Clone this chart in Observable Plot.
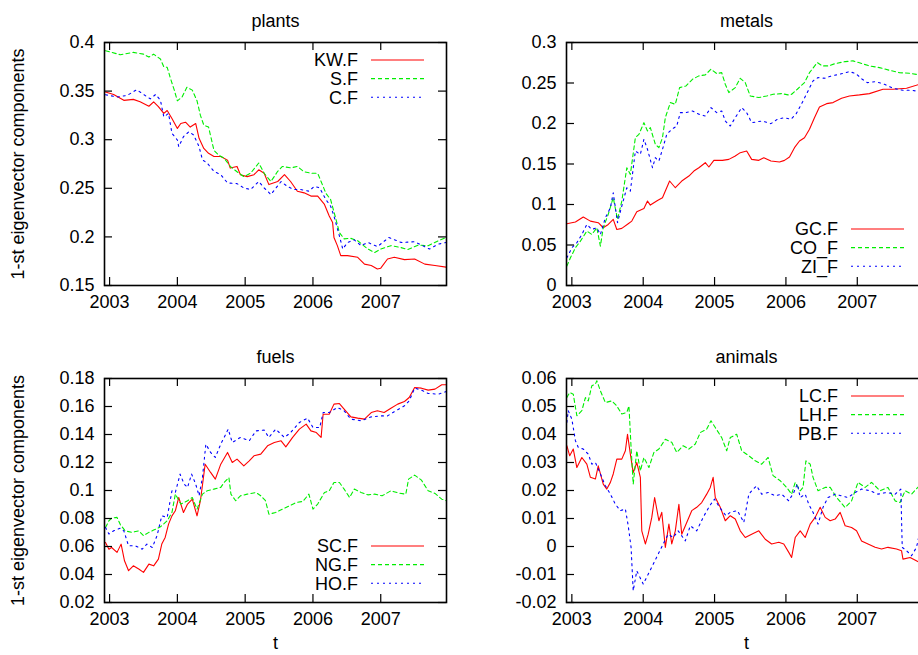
<!DOCTYPE html>
<html><head><meta charset="utf-8">
<script src="https://cdn.jsdelivr.net/npm/d3@7"></script>
<script src="https://cdn.jsdelivr.net/npm/@observablehq/plot@0.6"></script>
<style>
html,body{margin:0;padding:0;background:#fff;overflow:hidden;}
#wrap{position:relative;width:940px;height:655px;}
.panel{position:absolute;}
</style></head><body><div id="wrap"></div>
<script>
// ---------- data: [time (year), 1-st eigenvector component] ----------
const plantsKW = [[2002.94,0.349],[2003.06,0.3466],[2003.21,0.3405],[2003.35,0.3415],[2003.45,0.339],[2003.58,0.3344],[2003.65,0.339],[2003.72,0.334],[2003.8,0.327],[2003.85,0.33],[2003.92,0.3218],[2004.0,0.3116],[2004.05,0.3167],[2004.12,0.318],[2004.19,0.313],[2004.27,0.3167],[2004.32,0.3014],[2004.39,0.291],[2004.46,0.286],[2004.54,0.2827],[2004.64,0.2827],[2004.74,0.279],[2004.78,0.2708],[2004.88,0.2725],[2004.93,0.264],[2005.03,0.262],[2005.13,0.264],[2005.2,0.269],[2005.28,0.2655],[2005.35,0.2538],[2005.48,0.257],[2005.58,0.264],[2005.67,0.257],[2005.77,0.247],[2005.87,0.2453],[2005.97,0.242],[2006.07,0.242],[2006.17,0.2334],[2006.24,0.2215],[2006.29,0.2147],[2006.31,0.1994],[2006.36,0.191],[2006.41,0.1807],[2006.51,0.1807],[2006.66,0.179],[2006.76,0.172],[2006.86,0.1705],[2006.95,0.167],[2007.0,0.1678],[2007.1,0.1773],[2007.2,0.179],[2007.35,0.1766],[2007.5,0.1773],[2007.65,0.172],[2007.8,0.1705],[2007.97,0.1688]];
const plantsS = [[2002.94,0.3915],[2003.16,0.3874],[2003.35,0.3898],[2003.5,0.388],[2003.58,0.385],[2003.65,0.388],[2003.75,0.383],[2003.8,0.375],[2003.85,0.3745],[2003.9,0.3626],[2003.95,0.352],[2004.0,0.34],[2004.07,0.344],[2004.14,0.354],[2004.22,0.351],[2004.29,0.34],[2004.34,0.325],[2004.39,0.315],[2004.46,0.313],[2004.54,0.289],[2004.61,0.284],[2004.69,0.281],[2004.78,0.2725],[2004.88,0.267],[2004.98,0.262],[2005.08,0.2655],[2005.2,0.276],[2005.28,0.2655],[2005.38,0.257],[2005.48,0.2675],[2005.55,0.2725],[2005.67,0.271],[2005.77,0.2725],[2005.87,0.267],[2005.97,0.2655],[2006.07,0.2655],[2006.12,0.257],[2006.19,0.245],[2006.26,0.2385],[2006.34,0.218],[2006.39,0.2045],[2006.46,0.198],[2006.56,0.1985],[2006.66,0.196],[2006.81,0.1875],[2006.91,0.184],[2007.0,0.1875],[2007.15,0.191],[2007.3,0.189],[2007.4,0.187],[2007.55,0.1915],[2007.7,0.191],[2007.85,0.196],[2007.97,0.1995]];
const plantsC = [[2002.94,0.3463],[2003.11,0.3439],[2003.26,0.3456],[2003.4,0.3514],[2003.5,0.3466],[2003.6,0.342],[2003.68,0.3466],[2003.75,0.3405],[2003.8,0.3235],[2003.87,0.327],[2003.92,0.3065],[2004.0,0.2997],[2004.02,0.2929],[2004.09,0.3031],[2004.17,0.3082],[2004.24,0.3048],[2004.32,0.2929],[2004.37,0.2793],[2004.44,0.2759],[2004.54,0.2674],[2004.64,0.264],[2004.74,0.2555],[2004.88,0.2548],[2004.98,0.2504],[2005.08,0.2487],[2005.2,0.257],[2005.28,0.2504],[2005.38,0.2436],[2005.53,0.257],[2005.62,0.252],[2005.72,0.2487],[2005.82,0.2487],[2005.94,0.247],[2006.02,0.252],[2006.1,0.2504],[2006.19,0.2385],[2006.26,0.2317],[2006.31,0.2215],[2006.39,0.201],[2006.44,0.1875],[2006.51,0.1943],[2006.61,0.197],[2006.71,0.191],[2006.81,0.1943],[2006.95,0.19],[2007.12,0.1994],[2007.3,0.1943],[2007.5,0.195],[2007.72,0.1875],[2007.85,0.1926],[2007.97,0.1943]];

const metalsGC = [[2002.93,0.0762],[2003.05,0.0783],[2003.16,0.0845],[2003.26,0.0795],[2003.37,0.0775],[2003.44,0.0713],[2003.51,0.0754],[2003.58,0.0816],[2003.63,0.0692],[2003.7,0.0705],[2003.79,0.0762],[2003.84,0.0795],[2003.91,0.091],[2004.01,0.0952],[2004.06,0.1042],[2004.1,0.0993],[2004.2,0.105],[2004.27,0.1084],[2004.31,0.1166],[2004.37,0.129],[2004.45,0.1207],[2004.54,0.129],[2004.64,0.1351],[2004.71,0.1413],[2004.78,0.1454],[2004.87,0.1516],[2004.92,0.1463],[2004.99,0.1545],[2005.11,0.1545],[2005.2,0.1557],[2005.29,0.1598],[2005.36,0.164],[2005.45,0.166],[2005.52,0.1557],[2005.62,0.1545],[2005.69,0.1578],[2005.79,0.1537],[2005.91,0.1524],[2005.98,0.1545],[2006.05,0.1586],[2006.12,0.1702],[2006.19,0.1784],[2006.26,0.1825],[2006.33,0.1928],[2006.4,0.2072],[2006.47,0.2204],[2006.57,0.2245],[2006.66,0.2258],[2006.78,0.2311],[2006.89,0.234],[2007.03,0.2353],[2007.17,0.2369],[2007.36,0.2423],[2007.5,0.2423],[2007.69,0.2435],[2007.87,0.2484],[2007.97,0.249]];
const metalsCO = [[2002.93,0.0239],[2002.98,0.0342],[2003.05,0.0466],[2003.12,0.0548],[2003.21,0.0672],[2003.28,0.063],[2003.35,0.0713],[2003.4,0.0486],[2003.44,0.0713],[2003.51,0.0878],[2003.58,0.1084],[2003.64,0.0816],[2003.7,0.1042],[2003.77,0.1454],[2003.82,0.1372],[2003.89,0.1825],[2003.94,0.1866],[2004.01,0.201],[2004.06,0.1908],[2004.1,0.1949],[2004.17,0.1743],[2004.22,0.1702],[2004.27,0.1825],[2004.31,0.2072],[2004.38,0.2258],[2004.45,0.2237],[2004.51,0.2443],[2004.6,0.2464],[2004.69,0.2546],[2004.78,0.2588],[2004.87,0.26],[2004.95,0.267],[2005.03,0.2616],[2005.1,0.2628],[2005.15,0.2485],[2005.2,0.2382],[2005.29,0.2443],[2005.36,0.2558],[2005.43,0.2505],[2005.5,0.234],[2005.62,0.232],[2005.73,0.234],[2005.82,0.2361],[2005.94,0.2369],[2006.03,0.2353],[2006.08,0.2361],[2006.16,0.2423],[2006.26,0.2505],[2006.33,0.2628],[2006.44,0.2752],[2006.51,0.2711],[2006.6,0.2711],[2006.69,0.274],[2006.83,0.2764],[2006.94,0.2773],[2007.02,0.2752],[2007.17,0.2711],[2007.31,0.269],[2007.45,0.2657],[2007.59,0.2628],[2007.73,0.262],[2007.87,0.26],[2007.97,0.2595]];
const metalsZI = [[2002.93,0.0342],[2003.0,0.0466],[2003.07,0.0527],[2003.14,0.063],[2003.21,0.0754],[2003.28,0.0692],[2003.35,0.0713],[2003.4,0.063],[2003.47,0.0836],[2003.54,0.096],[2003.58,0.1145],[2003.64,0.0775],[2003.7,0.0981],[2003.77,0.1207],[2003.82,0.1166],[2003.89,0.166],[2003.96,0.1619],[2004.01,0.1805],[2004.06,0.1681],[2004.13,0.1454],[2004.17,0.1578],[2004.22,0.1537],[2004.27,0.1681],[2004.33,0.1866],[2004.4,0.1928],[2004.47,0.1969],[2004.52,0.2134],[2004.6,0.2134],[2004.69,0.2155],[2004.78,0.2114],[2004.87,0.2093],[2004.95,0.2196],[2005.03,0.2134],[2005.1,0.2155],[2005.15,0.2031],[2005.22,0.1969],[2005.29,0.2072],[2005.38,0.2196],[2005.45,0.2134],[2005.52,0.201],[2005.67,0.2031],[2005.79,0.1998],[2005.88,0.2052],[2005.98,0.2072],[2006.07,0.2052],[2006.14,0.2114],[2006.24,0.2278],[2006.31,0.2402],[2006.38,0.2526],[2006.45,0.2567],[2006.54,0.2558],[2006.64,0.2588],[2006.75,0.2608],[2006.89,0.2641],[2006.98,0.2616],[2007.07,0.2546],[2007.14,0.2505],[2007.26,0.2517],[2007.38,0.2484],[2007.5,0.2435],[2007.64,0.241],[2007.76,0.241],[2007.87,0.2394],[2007.97,0.239]];

const fuelsSC = [[2002.94,0.0629],[2002.99,0.0581],[2003.03,0.0593],[2003.11,0.0558],[2003.17,0.0617],[2003.22,0.0498],[2003.28,0.0427],[2003.35,0.0462],[2003.43,0.0439],[2003.5,0.0415],[2003.58,0.0474],[2003.65,0.0462],[2003.72,0.051],[2003.77,0.0617],[2003.82,0.0665],[2003.87,0.076],[2003.92,0.0819],[2003.97,0.0855],[2004.02,0.095],[2004.09,0.0843],[2004.15,0.0903],[2004.22,0.0938],[2004.29,0.0819],[2004.34,0.0927],[2004.41,0.1188],[2004.49,0.1129],[2004.56,0.1081],[2004.64,0.1188],[2004.74,0.1272],[2004.81,0.12],[2004.88,0.1224],[2004.98,0.1176],[2005.06,0.1212],[2005.13,0.1248],[2005.23,0.126],[2005.33,0.1319],[2005.43,0.1343],[2005.53,0.1355],[2005.6,0.1312],[2005.7,0.1379],[2005.8,0.1438],[2005.9,0.1474],[2005.97,0.1426],[2006.05,0.1414],[2006.12,0.1379],[2006.15,0.1545],[2006.24,0.1545],[2006.31,0.1617],[2006.39,0.1621],[2006.46,0.1581],[2006.56,0.1526],[2006.66,0.1517],[2006.76,0.151],[2006.86,0.1557],[2006.95,0.1569],[2007.05,0.1557],[2007.15,0.1588],[2007.25,0.1617],[2007.35,0.1636],[2007.42,0.1664],[2007.5,0.1736],[2007.6,0.1731],[2007.7,0.1717],[2007.8,0.1724],[2007.9,0.1755],[2007.97,0.1755]];
const fuelsNG = [[2002.94,0.0736],[2002.99,0.0784],[2003.03,0.0803],[2003.11,0.0808],[2003.16,0.0755],[2003.23,0.0712],[2003.33,0.0701],[2003.43,0.0712],[2003.5,0.0677],[2003.58,0.0701],[2003.65,0.0717],[2003.75,0.0741],[2003.85,0.0784],[2003.92,0.0843],[2003.97,0.0974],[2004.05,0.0903],[2004.15,0.0927],[2004.22,0.095],[2004.29,0.0867],[2004.37,0.0974],[2004.44,0.0998],[2004.54,0.101],[2004.64,0.1022],[2004.69,0.1057],[2004.76,0.1093],[2004.79,0.0974],[2004.86,0.0927],[2004.93,0.0962],[2005.03,0.0974],[2005.16,0.0986],[2005.23,0.0962],[2005.3,0.0927],[2005.35,0.0831],[2005.45,0.0843],[2005.55,0.0867],[2005.65,0.089],[2005.75,0.0914],[2005.85,0.0922],[2005.94,0.0974],[2006.0,0.0867],[2006.07,0.0903],[2006.17,0.0986],[2006.24,0.0998],[2006.31,0.1057],[2006.39,0.1057],[2006.46,0.101],[2006.54,0.095],[2006.61,0.101],[2006.71,0.0986],[2006.81,0.0969],[2006.91,0.0974],[2007.02,0.0962],[2007.15,0.0998],[2007.27,0.0981],[2007.37,0.0974],[2007.41,0.1081],[2007.5,0.111],[2007.6,0.1074],[2007.7,0.0998],[2007.8,0.0979],[2007.9,0.0938],[2007.97,0.0927]];
const fuelsHO = [[2002.94,0.0736],[2002.99,0.0689],[2003.06,0.0712],[2003.16,0.0731],[2003.21,0.0712],[2003.28,0.0605],[2003.38,0.0605],[2003.48,0.0581],[2003.55,0.0617],[2003.63,0.0593],[2003.7,0.0677],[2003.77,0.0819],[2003.85,0.0808],[2003.92,0.0998],[2003.97,0.0986],[2004.04,0.1117],[2004.1,0.1046],[2004.15,0.1022],[2004.21,0.1117],[2004.27,0.1046],[2004.32,0.0962],[2004.37,0.1093],[2004.42,0.1331],[2004.49,0.1272],[2004.56,0.1236],[2004.64,0.1331],[2004.75,0.1438],[2004.81,0.1343],[2004.93,0.1379],[2005.06,0.1355],[2005.16,0.1426],[2005.28,0.1431],[2005.35,0.1379],[2005.45,0.1438],[2005.58,0.1379],[2005.67,0.1414],[2005.8,0.1486],[2005.92,0.1517],[2006.0,0.145],[2006.1,0.145],[2006.15,0.1557],[2006.24,0.1557],[2006.36,0.1593],[2006.46,0.1569],[2006.56,0.151],[2006.71,0.1498],[2006.86,0.1526],[2007.0,0.1533],[2007.1,0.1533],[2007.22,0.1569],[2007.35,0.1605],[2007.42,0.1641],[2007.5,0.1731],[2007.6,0.1717],[2007.7,0.1693],[2007.85,0.1688],[2007.97,0.1707]];

const animalsLC = [[2002.93,0.036],[2002.97,0.0324],[2003.02,0.0348],[2003.07,0.0282],[2003.14,0.0318],[2003.21,0.0294],[2003.26,0.0247],[2003.33,0.0241],[2003.37,0.0288],[2003.44,0.0223],[2003.49,0.0205],[2003.54,0.0229],[2003.58,0.0259],[2003.63,0.0312],[2003.7,0.0312],[2003.75,0.0342],[2003.78,0.0401],[2003.82,0.033],[2003.86,0.0264],[2003.91,0.03],[2003.96,0.0247],[2003.98,0.0056],[2004.03,0.0009],[2004.07,0.0044],[2004.12,0.0104],[2004.16,0.0175],[2004.22,0.0092],[2004.26,0.0122],[2004.31,-0.0003],[2004.36,0.008],[2004.4,0.0009],[2004.45,0.0056],[2004.5,0.0151],[2004.54,0.0044],[2004.61,0.0086],[2004.68,0.0128],[2004.75,0.014],[2004.82,0.0157],[2004.89,0.0187],[2004.94,0.0211],[2004.98,0.0247],[2005.01,0.0175],[2005.08,0.014],[2005.15,0.0092],[2005.22,0.011],[2005.29,0.0098],[2005.36,0.0056],[2005.43,0.0032],[2005.52,0.0044],[2005.62,0.0056],[2005.71,0.0026],[2005.8,0.0009],[2005.9,0.0015],[2005.97,0.0009],[2006.04,-0.0021],[2006.08,-0.0039],[2006.13,0.0032],[2006.2,0.0056],[2006.27,0.0032],[2006.34,0.008],[2006.41,0.0104],[2006.48,0.014],[2006.55,0.0104],[2006.62,0.0092],[2006.69,0.0098],[2006.76,0.0122],[2006.83,0.0074],[2006.92,0.0068],[2006.99,0.0056],[2007.06,0.002],[2007.15,0.0009],[2007.25,-0.0003],[2007.34,-0.0009],[2007.43,-0.0003],[2007.55,-0.0009],[2007.62,-0.0015],[2007.64,-0.0045],[2007.74,-0.0039],[2007.87,-0.0057],[2007.97,-0.006]];
const animalsLH = [[2002.93,0.0532],[2002.97,0.055],[2003.02,0.0544],[2003.07,0.0467],[2003.14,0.0485],[2003.19,0.0532],[2003.23,0.052],[2003.28,0.0574],[2003.33,0.058],[2003.35,0.0592],[2003.4,0.0556],[2003.47,0.0514],[2003.56,0.052],[2003.63,0.0502],[2003.7,0.0473],[2003.77,0.0479],[2003.8,0.0502],[2003.83,0.0354],[2003.86,0.0223],[2003.91,0.0342],[2003.96,0.027],[2004.01,0.0318],[2004.08,0.0282],[2004.15,0.0336],[2004.22,0.0348],[2004.31,0.0383],[2004.4,0.0372],[2004.47,0.0336],[2004.56,0.036],[2004.64,0.0348],[2004.73,0.0366],[2004.8,0.0407],[2004.89,0.0419],[2004.95,0.0449],[2005.01,0.0425],[2005.1,0.0389],[2005.17,0.0342],[2005.22,0.0389],[2005.31,0.0401],[2005.38,0.0342],[2005.48,0.0324],[2005.57,0.0306],[2005.66,0.0294],[2005.75,0.0318],[2005.82,0.0253],[2005.92,0.0235],[2006.01,0.0211],[2006.08,0.0187],[2006.13,0.0229],[2006.2,0.0199],[2006.24,0.0211],[2006.28,0.0306],[2006.34,0.0294],[2006.38,0.0247],[2006.45,0.0199],[2006.55,0.0211],[2006.62,0.0211],[2006.71,0.0175],[2006.83,0.0139],[2006.92,0.0163],[2007.01,0.0229],[2007.11,0.0211],[2007.2,0.0229],[2007.32,0.0199],[2007.43,0.0211],[2007.53,0.0163],[2007.6,0.0157],[2007.67,0.0199],[2007.76,0.0187],[2007.87,0.0217],[2007.97,0.021]];
const animalsPB = [[2002.93,0.0443],[2002.95,0.0485],[2003.0,0.0455],[2003.05,0.0378],[2003.09,0.0354],[2003.16,0.0348],[2003.23,0.033],[2003.28,0.0294],[2003.33,0.03],[2003.4,0.0259],[2003.47,0.0217],[2003.54,0.0187],[2003.61,0.0151],[2003.68,0.0128],[2003.75,0.0134],[2003.79,0.0074],[2003.83,-0.0003],[2003.86,-0.0158],[2003.91,-0.0087],[2004.0,-0.0134],[2004.07,-0.0099],[2004.14,-0.0063],[2004.21,-0.0027],[2004.28,0.0009],[2004.35,0.0044],[2004.42,0.0032],[2004.49,0.0056],[2004.59,0.002],[2004.66,0.0074],[2004.75,0.0056],[2004.84,0.0104],[2004.93,0.0145],[2005.0,0.0169],[2005.07,0.014],[2005.16,0.011],[2005.22,0.0122],[2005.32,0.0128],[2005.41,0.0086],[2005.48,0.0187],[2005.52,0.0199],[2005.59,0.0217],[2005.66,0.0187],[2005.75,0.0193],[2005.85,0.0181],[2005.94,0.0187],[2006.04,0.0163],[2006.11,0.0193],[2006.16,0.0223],[2006.2,0.0175],[2006.27,0.0187],[2006.32,0.0151],[2006.38,0.0122],[2006.45,0.008],[2006.52,0.014],[2006.59,0.0175],[2006.69,0.0187],[2006.78,0.0181],[2006.87,0.0175],[2006.97,0.0193],[2007.06,0.0205],[2007.18,0.0199],[2007.29,0.0187],[2007.41,0.0193],[2007.53,0.0187],[2007.61,0.0205],[2007.63,-0.0003],[2007.69,-0.0015],[2007.76,-0.0033],[2007.83,-0.0003],[2007.87,0.0044],[2007.97,0.008]];

// ---------- axes ----------
const xTicks = [2003, 2004, 2005, 2006, 2007];
const plantsTicks = [0.15, 0.2, 0.25, 0.3, 0.35, 0.4];
const metalsTicks = [0, 0.05, 0.1, 0.15, 0.2, 0.25, 0.3];
const fuelsTicks = [0.02, 0.04, 0.06, 0.08, 0.1, 0.12, 0.14, 0.16, 0.18];
const animalsTicks = [-0.02, -0.01, 0, 0.01, 0.02, 0.03, 0.04, 0.05, 0.06];
const xDomain = [2002.925, 2007.97];

const RED = "#ff0000", GREEN = "#00ee00", BLUE = "#0000ff";
const FONT = "'Liberation Sans', Arial, Helvetica, sans-serif";
const YLABEL = "1-st eigenvector components";

function panel(o) {
  const W = o.width - o.ml - o.mr, H = o.height - o.mt - o.mb;
  const fmt = d => String(+d.toFixed(2));
  const tickStyle = {stroke: "#000", strokeWidth: 1.2};
  const marks = [
    ...o.series.map(s => Plot.line(s.data, {x: d => d[0], y: d => d[1], stroke: s.color, strokeWidth: 1.1, strokeDasharray: s.dash, clip: true})),
    Plot.tickY(o.yTicks, {y: d => d, insetRight: W - 8, ...tickStyle}),
    Plot.tickY(o.yTicks, {y: d => d, insetLeft: W - 8, ...tickStyle}),
    Plot.tickX(xTicks, {x: d => d, insetTop: H - 8, ...tickStyle}),
    Plot.tickX(xTicks, {x: d => d, insetBottom: H - 8, ...tickStyle}),
    Plot.frame({stroke: "#000", strokeWidth: 1.6}),
    Plot.axisY({ticks: o.yTicks, tickSize: 0, tickPadding: 10, tickFormat: fmt, label: null}),
    Plot.axisX({ticks: xTicks, tickSize: 0, tickPadding: 10, tickFormat: d => String(d), label: null}),
    Plot.text([o.title], {text: d => d, frameAnchor: "top", dy: -28, fill: "#000"})
  ];
  if (o.ylabel) marks.push(Plot.text([YLABEL], {text: d => d, frameAnchor: "left", textAnchor: "middle", rotate: -90, dx: -86, fill: "#000"}));
  if (o.xlabel) marks.push(Plot.text(["t"], {text: d => d, frameAnchor: "bottom", dy: 46, fill: "#000"}));
  const svg = Plot.plot({
    width: o.width, height: o.height,
    marginLeft: o.ml, marginRight: o.mr, marginTop: o.mt, marginBottom: o.mb,
    x: {domain: xDomain},
    y: {domain: o.yDomain},
    style: {fontFamily: FONT, fontSize: "18px", color: "#000", background: "transparent", overflow: "visible"},
    marks
  });
  // legend inside the frame
  const g = d3.select(svg).append("g").attr("font-family", FONT).attr("font-size", 18);
  const right = o.width - o.mr;
  const y0 = o.legend === "top" ? o.mt + 18 : o.height - o.mb - 56;
  o.series.forEach((s, i) => {
    const y = y0 + i * 18.6;
    g.append("text").attr("x", right - 88).attr("y", y).attr("dy", "0.35em").attr("text-anchor", "end").attr("fill", "#000").text(s.name);
    g.append("line").attr("x1", right - 75).attr("x2", right - 22).attr("y1", y).attr("y2", y)
      .attr("stroke", s.color).attr("stroke-width", 1.1).attr("stroke-dasharray", s.dash || null);
  });
  const div = document.createElement("div");
  div.className = "panel";
  div.style.left = o.left + "px";
  div.style.top = o.top + "px";
  div.appendChild(svg);
  document.getElementById("wrap").appendChild(div);
}

const DASH = "4,3", DOT = "2,4";

panel({left: 0, top: 0, width: 460, height: 330, ml: 104, mr: 14, mt: 42, mb: 45,
  title: "plants", yDomain: [0.15, 0.4], yTicks: plantsTicks, legend: "top", ylabel: true,
  series: [{name: "KW.F", data: plantsKW, color: RED}, {name: "S.F", data: plantsS, color: GREEN, dash: DASH}, {name: "C.F", data: plantsC, color: BLUE, dash: DOT}]});

panel({left: 460, top: 0, width: 480, height: 330, ml: 106, mr: 14, mt: 42, mb: 45,
  title: "metals", yDomain: [0, 0.3], yTicks: metalsTicks, legend: "bottom",
  series: [{name: "GC.F", data: metalsGC, color: RED}, {name: "CO_F", data: metalsCO, color: GREEN, dash: DASH}, {name: "ZI_F", data: metalsZI, color: BLUE, dash: DOT}]});

panel({left: 0, top: 330, width: 460, height: 325, ml: 104, mr: 14, mt: 48, mb: 53,
  title: "fuels", yDomain: [0.02, 0.18], yTicks: fuelsTicks, legend: "bottom", ylabel: true, xlabel: true,
  series: [{name: "SC.F", data: fuelsSC, color: RED}, {name: "NG.F", data: fuelsNG, color: GREEN, dash: DASH}, {name: "HO.F", data: fuelsHO, color: BLUE, dash: DOT}]});

panel({left: 460, top: 330, width: 480, height: 325, ml: 106, mr: 14, mt: 48, mb: 53,
  title: "animals", yDomain: [-0.02, 0.06], yTicks: animalsTicks, legend: "top", xlabel: true,
  series: [{name: "LC.F", data: animalsLC, color: RED}, {name: "LH.F", data: animalsLH, color: GREEN, dash: DASH}, {name: "PB.F", data: animalsPB, color: BLUE, dash: DOT}]});
</script></body></html>
